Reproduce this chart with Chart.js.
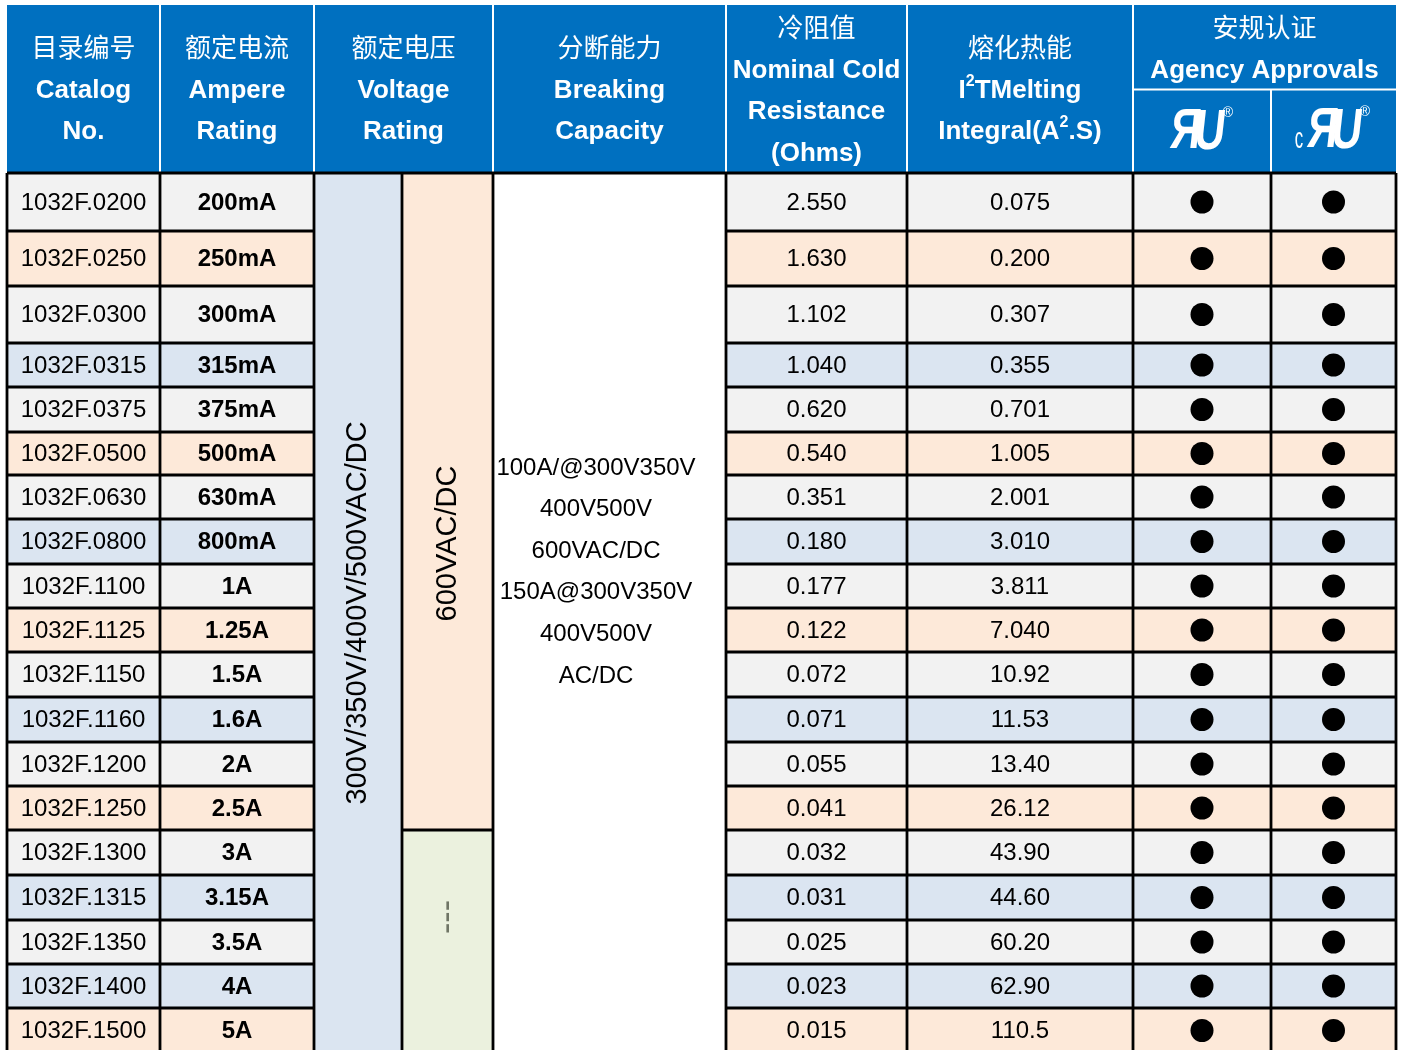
<!DOCTYPE html>
<html>
<head>
<meta charset="utf-8">
<script src="https://cdn.jsdelivr.net/npm/chart.js@4/dist/chart.umd.min.js"></script>
<style>
  html, body { margin: 0; padding: 0; background: #fff; }
  canvas { display: block; }
</style>
</head>
<body>
<canvas id="fuseTable" width="1402" height="1050"></canvas>
<script>
// table data
const catalogNos = ['1032F.0200', '1032F.0250', '1032F.0300', '1032F.0315', '1032F.0375', '1032F.0500',
  '1032F.0630', '1032F.0800', '1032F.1100', '1032F.1125', '1032F.1150', '1032F.1160', '1032F.1200',
  '1032F.1250', '1032F.1300', '1032F.1315', '1032F.1350', '1032F.1400', '1032F.1500'];
const ampereRatings = ['200mA', '250mA', '300mA', '315mA', '375mA', '500mA', '630mA', '800mA', '1A',
  '1.25A', '1.5A', '1.6A', '2A', '2.5A', '3A', '3.15A', '3.5A', '4A', '5A'];
const coldResistance = ['2.550', '1.630', '1.102', '1.040', '0.620', '0.540', '0.351', '0.180', '0.177',
  '0.122', '0.072', '0.071', '0.055', '0.041', '0.032', '0.031', '0.025', '0.023', '0.015'];
const meltingI2t = ['0.075', '0.200', '0.307', '0.355', '0.701', '1.005', '2.001', '3.010', '3.811',
  '7.040', '10.92', '11.53', '13.40', '26.12', '43.90', '44.60', '60.20', '62.90', '110.5'];
const ulListed = catalogNos.map(() => true);
const culListed = catalogNos.map(() => true);
const voltageAll = '300V/350V/400V/500VAC/DC';
const voltage600 = ['600VAC/DC', '---']; // first applies to rows 0-13, second to rows 14-18
const voltage600Rows = 14;
const breakingCapacity = ['100A/@300V350V', '400V500V', '600VAC/DC', '150A@300V350V', '400V500V', 'AC/DC'];

// layout (pixel units of the table, mapped through the chart scales)
const colEdges = [7, 160, 314, 402, 493, 726, 907, 1133, 1271, 1396];
const rowEdges = [173, 231, 286, 343, 387, 432, 475, 519, 564, 608, 652, 697, 742, 786, 830, 875, 920, 964, 1008, 1053];
const headerTop = 5, headerBottom = 172, agencySplit = 89.5;
const rowShades = ['grey', 'peach', 'grey', 'blue', 'grey', 'peach', 'grey', 'blue', 'grey', 'peach',
  'grey', 'blue', 'grey', 'peach', 'grey', 'blue', 'grey', 'blue', 'peach'];
const shadeColors = { grey: '#f2f2f2', peach: '#fde9d9', blue: '#dbe5f1', green: '#ebf1de' };
const headerBlue = '#0070c0';
const LATIN = '"Liberation Sans", Arial, sans-serif';
const CJK = '"Noto Sans CJK SC", sans-serif';

const rowMid = (i) => (rowEdges[i] + rowEdges[i + 1]) / 2;
const colMid = (c) => (colEdges[c] + colEdges[c + 1]) / 2;

const tablePlugin = {
  id: 'fuseTable',
  beforeDatasetsDraw(chart) {
    const { ctx, scales: { x, y } } = chart;
    const X = (v) => x.getPixelForValue(v);
    const Y = (v) => y.getPixelForValue(v);
    const rect = (x0, y0, x1, y1, color) => {
      ctx.fillStyle = color;
      ctx.fillRect(X(x0), Y(y0), X(x1) - X(x0), Y(y1) - Y(y0));
    };
    const line = (x0, y0, x1, y1, color, w) => {
      ctx.strokeStyle = color;
      ctx.lineWidth = w;
      ctx.beginPath();
      ctx.moveTo(X(x0), Y(y0));
      ctx.lineTo(X(x1), Y(y1));
      ctx.stroke();
    };
    const text = (str, cx, cy, font, color) => {
      ctx.font = font;
      ctx.fillStyle = color;
      ctx.textAlign = 'center';
      ctx.textBaseline = 'middle';
      ctx.fillText(str, X(cx), Y(cy));
    };
    // text with ^n superscripts, e.g. 'I^2TMelting'
    const supText = (str, cx, cy, size, color) => {
      const parts = str.split(/\^(\d)/);
      const big = 'bold ' + size + 'px ' + LATIN;
      const small = 'bold ' + Math.round(size * 0.6) + 'px ' + LATIN;
      let total = 0;
      parts.forEach((p, k) => { ctx.font = k % 2 ? small : big; total += ctx.measureText(p).width; });
      let px = X(cx) - total / 2;
      ctx.fillStyle = color;
      ctx.textAlign = 'left';
      ctx.textBaseline = 'middle';
      parts.forEach((p, k) => {
        ctx.font = k % 2 ? small : big;
        ctx.fillText(p, px, Y(cy) - (k % 2 ? size * 0.38 : 0));
        px += ctx.measureText(p).width;
      });
    };
    const vtext = (str, cx, cy, font, color) => {
      ctx.save();
      ctx.translate(X(cx), Y(cy));
      ctx.rotate(-Math.PI / 2);
      ctx.font = font;
      ctx.fillStyle = color;
      ctx.textAlign = 'center';
      ctx.textBaseline = 'middle';
      ctx.fillText(str, 0, 0);
      ctx.restore();
    };
    const bodyBottom = rowEdges[rowEdges.length - 1];

    ctx.save();

    // header block
    rect(colEdges[0], headerTop, colEdges[9], headerBottom, headerBlue);
    [1, 2, 4, 5, 6, 7].forEach((c) => line(colEdges[c], headerTop, colEdges[c], headerBottom, '#fff', 2));
    line(colEdges[7], agencySplit, colEdges[9], agencySplit, '#fff', 2);
    line(colEdges[8], agencySplit, colEdges[8], headerBottom, '#fff', 2);

    const hZh = '26px ' + CJK;
    const threeLine = [47, 91, 132];
    const fourLine = [27, 70.5, 112, 153.5];
    const headers = [
      { x: colMid(0), zh: '目录编号', en: ['Catalog', 'No.'], ys: threeLine },
      { x: colMid(1), zh: '额定电流', en: ['Ampere', 'Rating'], ys: threeLine },
      { x: (colEdges[2] + colEdges[4]) / 2, zh: '额定电压', en: ['Voltage', 'Rating'], ys: threeLine },
      { x: colMid(4), zh: '分断能力', en: ['Breaking', 'Capacity'], ys: threeLine },
      { x: colMid(5), zh: '冷阻值', en: ['Nominal Cold', 'Resistance', '(Ohms)'], ys: fourLine },
      { x: colMid(6), zh: '熔化热能', en: ['I^2TMelting', 'Integral(A^2.S)'], ys: threeLine },
      { x: (colEdges[7] + colEdges[9]) / 2, zh: '安规认证', en: ['Agency Approvals'], ys: fourLine }
    ];
    headers.forEach((h) => {
      text(h.zh, h.x, h.ys[0], hZh, '#fff');
      h.en.forEach((s, k) => supText(s, h.x, h.ys[k + 1], 26, '#fff'));
    });

    // UL marks
    const ulMark = (cx, cy, withC) => {
      ctx.save();
      ctx.translate(X(cx), Y(cy));
      ctx.fillStyle = '#fff';
      ctx.textBaseline = 'middle';
      ctx.save();
      ctx.transform(1, 0, -0.15, 1.35, 0, 0);
      ctx.font = 'bold 42px ' + LATIN;
      ctx.textAlign = 'right';
      ctx.fillText('Я', 4, 1);
      ctx.textAlign = 'left';
      ctx.fillText('U', -2, 2);
      ctx.restore();
      ctx.font = '14px ' + LATIN;
      ctx.textAlign = 'center';
      ctx.fillText('®', 31, -18);
      if (withC) {
        ctx.save();
        ctx.scale(0.7, 1.25);
        ctx.font = '24px ' + LATIN;
        ctx.fillText('c', -50, 8);
        ctx.restore();
      }
      ctx.restore();
    };
    ulMark(1197, 131, false);
    ulMark(1334, 130, true);

    // body backgrounds
    const rowCols = [0, 1, 5, 6, 7, 8];
    catalogNos.forEach((_, i) => {
      rowCols.forEach((c) => rect(colEdges[c], rowEdges[i], colEdges[c + 1], rowEdges[i + 1], shadeColors[rowShades[i]]));
    });
    rect(colEdges[2], rowEdges[0], colEdges[3], bodyBottom, shadeColors.blue);
    rect(colEdges[3], rowEdges[0], colEdges[4], rowEdges[voltage600Rows], shadeColors.peach);
    rect(colEdges[3], rowEdges[voltage600Rows], colEdges[4], bodyBottom, shadeColors.green);
    rect(colEdges[4], rowEdges[0], colEdges[5], bodyBottom, '#fff');

    // grid
    const lw = 2.8;
    line(colEdges[0], rowEdges[0], colEdges[9], rowEdges[0], '#000', 3);
    rowEdges.slice(1).forEach((ry) => {
      line(colEdges[0], ry, colEdges[2], ry, '#000', lw);
      line(colEdges[5], ry, colEdges[9], ry, '#000', lw);
    });
    line(colEdges[3], rowEdges[voltage600Rows], colEdges[4], rowEdges[voltage600Rows], '#000', lw);
    colEdges.forEach((cx) => line(cx, rowEdges[0], cx, bodyBottom, '#000', lw));

    // body text
    const bodyFont = '24px ' + LATIN;
    catalogNos.forEach((s, i) => {
      const cy = rowMid(i) + 1;
      text(s, colMid(0), cy, bodyFont, '#000');
      text(ampereRatings[i], colMid(1), cy, 'bold 24px ' + LATIN, '#000');
      text(coldResistance[i], colMid(5), cy, bodyFont, '#000');
      text(meltingI2t[i], colMid(6), cy, bodyFont, '#000');
    });

    vtext(voltageAll, colMid(2), (rowEdges[0] + bodyBottom) / 2, '29px ' + LATIN, '#000');
    vtext(voltage600[0], colMid(3), 543.5, '29px ' + LATIN, '#000');
    vtext(voltage600[1], colMid(3), 917, '34px ' + LATIN, '#6f7565');

    const capTop = 468, capStep = 41.6;
    breakingCapacity.forEach((s, k) => text(s, 596, capTop + k * capStep, bodyFont, '#000'));

    ctx.restore();
  }
};

// approval dots drawn as scatter points
const dotData = [];
catalogNos.forEach((_, i) => {
  if (ulListed[i]) dotData.push({ x: colMid(7), y: rowMid(i) });
  if (culListed[i]) dotData.push({ x: colMid(8), y: rowMid(i) });
});

new Chart(document.getElementById('fuseTable'), {
  type: 'scatter',
  data: {
    datasets: [{
      label: 'Approvals',
      data: dotData,
      pointStyle: 'circle',
      pointRadius: 11.5,
      pointHoverRadius: 11.5,
      backgroundColor: '#000',
      borderWidth: 0,
      clip: false
    }]
  },
  options: {
    responsive: false,
    devicePixelRatio: 1,
    animation: false,
    events: [],
    layout: { padding: 0, autoPadding: false },
    plugins: { legend: { display: false }, tooltip: { enabled: false } },
    scales: {
      x: { type: 'linear', min: 0, max: 1402, display: false },
      y: { type: 'linear', min: 0, max: 1050, reverse: true, display: false }
    }
  },
  plugins: [tablePlugin]
});
</script>
</body>
</html>
